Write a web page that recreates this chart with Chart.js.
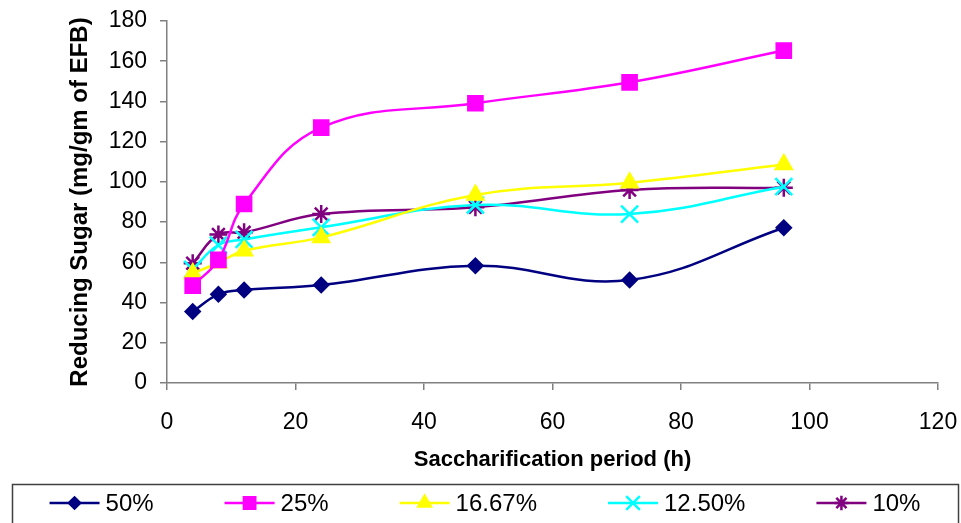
<!DOCTYPE html>
<html>
<head>
<meta charset="utf-8">
<script src="https://cdn.jsdelivr.net/npm/chart.js@4/dist/chart.umd.min.js"></script>
<style>
    body { margin: 0; background: #ffffff; }
    #wrap { width: 961px; height: 523px; position: relative; overflow: hidden; }
</style>
</head>
<body>
<div id="wrap"><canvas id="sugarChart" width="961" height="523"></canvas></div>
<script>
// Datos
const hours = [4, 8, 12, 24, 48, 72, 96];
const seriesNames = ['50%', '25%', '16.67%', '12.50%', '10%'];
const sugar50 = [35.5, 44.1, 46.2, 48.7, 58.3, 51.2, 77.2];
const sugar25 = [48.4, 61.2, 89.0, 127.0, 139.1, 149.5, 165.3];
const sugar1667 = [54.5, 59.8, 65.8, 72.4, 93.5, 99.6, 108.7];
const sugar1250 = [56.5, 68.6, 71.4, 77.4, 88.5, 84.0, 97.6];
const sugar10 = [59.5, 73.9, 74.9, 84.0, 87.4, 96.0, 97.1];
const xTicks = [0, 20, 40, 60, 80, 100, 120];
const yTicks = [0, 20, 40, 60, 80, 100, 120, 140, 160, 180];

const seriesValues = [sugar50, sugar25, sugar1667, sugar1250, sugar10];
const seriesColors = ['#000080', '#ff00ff', '#ffff00', '#00ffff', '#800080'];
const seriesMarkers = ['rectRot', 'rect', 'triangle', 'crossRot', 'star'];
const markerSizes = [7, 10, 9, 12, 9];

const FONT = '"Liberation Sans", Arial, sans-serif';

function makeDataset(i) {
    return {
        label: seriesNames[i],
        data: hours.map((h, k) => ({ x: h, y: seriesValues[i][k] })),
        borderColor: seriesColors[i],
        backgroundColor: seriesColors[i],
        borderWidth: 2.5,
        pointStyle: seriesMarkers[i],
        pointRadius: markerSizes[i],
        pointBorderWidth: 2.5,
        pointBackgroundColor: seriesColors[i],
        pointBorderColor: seriesColors[i],
        tension: 0.4,
        fill: false
    };
}

// Leyenda con recuadro, dibujada abajo
const boxLegend = {
    id: 'boxLegend',
    afterDraw(chart) {
        const ctx = chart.ctx;
        const boxLeft = 12, boxRight = 958, boxTop = 484, rowY = 503;
        ctx.save();
        ctx.strokeStyle = '#404040';
        ctx.lineWidth = 1.5;
        ctx.strokeRect(boxLeft + 0.5, boxTop + 0.5, boxRight - boxLeft, 80);

        ctx.font = '24px ' + FONT;
        const lineLen = 50, textGap = 6, itemGap = 71;
        const widths = chart.data.datasets.map(ds => lineLen + textGap + ctx.measureText(ds.label).width);
        const total = widths.reduce((a, b) => a + b, 0) + itemGap * (widths.length - 1);
        let x = (boxLeft + boxRight) / 2 - total / 2;

        chart.data.datasets.forEach((ds, i) => {
            ctx.strokeStyle = ds.borderColor;
            ctx.lineWidth = 2.5;
            ctx.beginPath();
            ctx.moveTo(x, rowY);
            ctx.lineTo(x + lineLen, rowY);
            ctx.stroke();
            ctx.fillStyle = ds.borderColor;
            Chart.helpers.drawPoint(ctx, {
                pointStyle: ds.pointStyle,
                radius: ds.pointRadius * 0.8,
                borderWidth: ds.pointBorderWidth,
                rotation: 0
            }, x + lineLen / 2, rowY);
            ctx.fillStyle = '#000000';
            ctx.textAlign = 'left';
            ctx.textBaseline = 'middle';
            ctx.fillText(ds.label, x + lineLen + textGap, rowY + 1);
            x += widths[i] + itemGap;
        });
        ctx.restore();
    }
};

const ctx = document.getElementById('sugarChart');
new Chart(ctx, {
    type: 'line',
    data: {
        datasets: seriesNames.map((_, i) => makeDataset(i))
    },
    options: {
        responsive: false,
        animation: false,
        layout: {
            padding: { left: 66, right: 23, top: 21, bottom: 50 }
        },
        plugins: {
            legend: { display: false },
            tooltip: { enabled: false }
        },
        scales: {
            x: {
                type: 'linear',
                min: 0,
                max: 120,
                afterBuildTicks: scale => { scale.ticks = xTicks.map(v => ({ value: v })); },
                afterFit: scale => {
                    scale.height = 90;
                    scale.paddingLeft = 0;
                    scale.paddingRight = 0;
                },
                border: { color: '#808080', width: 1.5 },
                grid: { drawOnChartArea: false, drawTicks: true, tickLength: 7, color: '#808080', lineWidth: 1.5 },
                ticks: { color: '#000000', padding: 19, font: { family: FONT, size: 23 }, maxRotation: 0 },
                title: {
                    display: true,
                    text: 'Saccharification period (h)',
                    color: '#000000',
                    padding: 0,
                    font: { family: FONT, size: 22, weight: 'bold' }
                }
            },
            y: {
                min: 0,
                max: 180,
                afterBuildTicks: scale => { scale.ticks = yTicks.map(v => ({ value: v })); },
                afterFit: scale => {
                    scale.width = 101;
                    scale.paddingTop = 0;
                    scale.paddingBottom = 0;
                },
                border: { color: '#808080', width: 1.5 },
                grid: { drawOnChartArea: false, drawTicks: true, tickLength: 7, color: '#808080', lineWidth: 1.5 },
                ticks: { color: '#000000', padding: 13, font: { family: FONT, size: 23 } },
                title: {
                    display: true,
                    text: 'Reducing Sugar (mg/gm of EFB)',
                    color: '#000000',
                    padding: 0,
                    font: { family: FONT, size: 24, weight: 'bold' }
                }
            }
        }
    },
    plugins: [boxLegend]
});
</script>
</body>
</html>
